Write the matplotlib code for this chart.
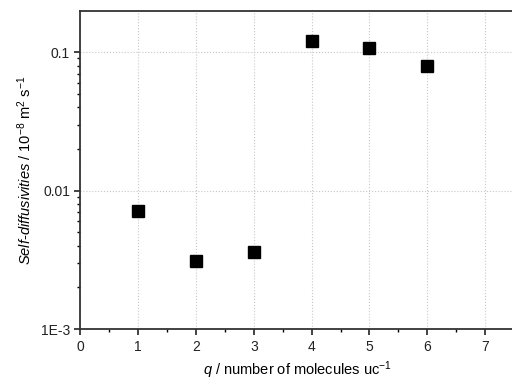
import matplotlib
matplotlib.use("Agg")
import matplotlib.pyplot as plt
from matplotlib.ticker import FixedLocator, LogLocator, NullFormatter, MultipleLocator

plt.rcParams["font.family"] = ["Liberation Sans", "DejaVu Sans"]
plt.rcParams["mathtext.fontset"] = "custom"
plt.rcParams["mathtext.rm"] = "Liberation Sans"
plt.rcParams["mathtext.it"] = "Liberation Sans:italic"

loading = [1, 2, 3, 4, 5, 6]
diffusivity = [0.0071, 0.0031, 0.0036, 0.12, 0.108, 0.079]

y_ticks = [0.001, 0.01, 0.1]
y_tick_labels = ["1E-3", "0.01", "0.1"]

fig = plt.figure(figsize=(5.12, 3.81), dpi=100)
ax = fig.add_axes([0.157, 0.136, 0.847, 0.835])

ax.plot(loading, diffusivity, "s", color="black", markersize=8, zorder=3)

ax.set_yscale("log")
ax.set_xlim(0, 7.5)
ax.set_ylim(0.001, 0.198)

ax.xaxis.set_major_locator(MultipleLocator(1))
ax.xaxis.set_minor_locator(MultipleLocator(0.5))
ax.yaxis.set_major_locator(FixedLocator(y_ticks))
ax.set_yticklabels(y_tick_labels)
ax.yaxis.set_minor_locator(LogLocator(base=10, subs=range(2, 10)))
ax.yaxis.set_minor_formatter(NullFormatter())

ax.tick_params(which="major", direction="out", length=4, width=1.2, labelsize=10, colors="#222222")
ax.tick_params(which="minor", direction="out", length=2.5, width=1.0)

ax.grid(True, which="major", linestyle=":", color="#c8c8c8", linewidth=0.8)

for side in ["left", "bottom", "top"]:
    ax.spines[side].set_linewidth(1.3)
    ax.spines[side].set_color("#333333")
ax.spines["right"].set_visible(False)

ax.set_xlabel(r"$\mathit{q}$ / number of molecules uc$^{-1}$", fontsize=10.5, labelpad=4)
ax.set_ylabel(r"$\mathit{Self}$-$\mathit{diffusivities}$ / 10$^{-8}$ m$^{2}$ s$^{-1}$",
              fontsize=10.5, labelpad=5)

fig.savefig("out.png", dpi=100)
